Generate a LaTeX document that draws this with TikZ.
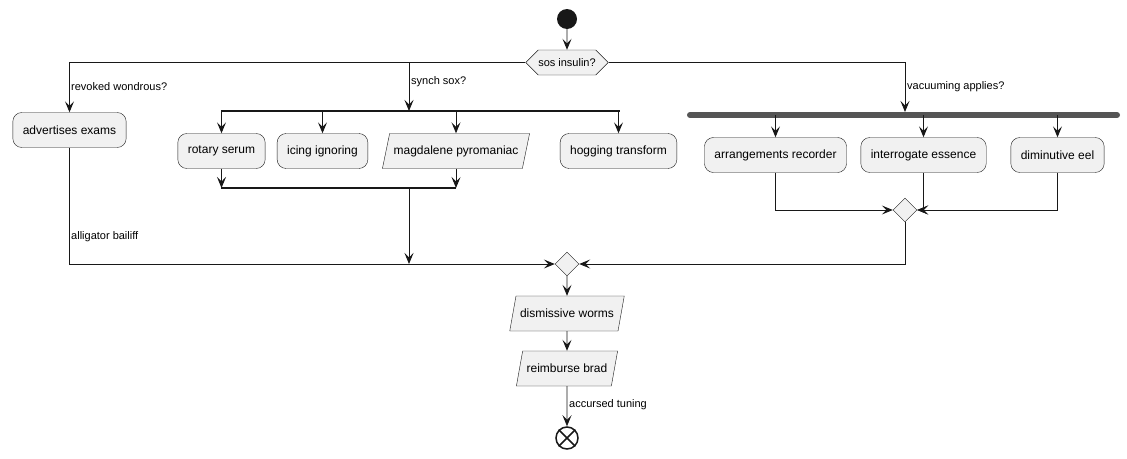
\documentclass[tikz,border=0pt]{standalone}
\usepackage{fontspec}
\setmainfont{Liberation Sans}
\usetikzlibrary{shapes.geometric,shapes.symbols,arrows.meta}
\definecolor{ink}{HTML}{181818}
\definecolor{boxfill}{HTML}{F1F1F1}
\definecolor{barfill}{HTML}{555555}

\begin{document}
\begin{tikzpicture}[x=1pt, y=-1pt, >={Stealth[length=11pt,width=9pt,inset=4.5pt]}]
        \tikzstyle{action} = [rectangle, draw=ink, fill=boxfill, rounded corners=9pt, minimum height=35pt, inner xsep=10pt, font=\fontsize{12}{14}\selectfont]
        \tikzstyle{io} = [trapezium, trapezium left angle=68, trapezium right angle=112, trapezium stretches body, draw=ink, fill=boxfill, minimum height=35pt, inner xsep=4pt, font=\fontsize{12}{14}\selectfont]
        \tikzstyle{cond} = [signal, signal to=west and east, draw=ink, fill=boxfill, minimum height=25pt, inner xsep=0pt, font=\fontsize{11}{13}\selectfont]
        \tikzstyle{merge} = [diamond, draw=ink, fill=boxfill, minimum size=24pt, inner sep=0pt]
        \tikzstyle{line} = [draw=ink, ->, line width=0.9pt]
        \tikzstyle{lbl} = [anchor=west, inner sep=2pt, font=\fontsize{11}{13}\selectfont]
        \useasboundingbox (0,0) rectangle (1127,458);

        % Start and first test
        \node [circle, fill=ink, minimum size=20pt, inner sep=0pt] (start) at (567,19) {};
        \node [cond] (sos) at (567,62.5) {sos insulin?};

        % Left branch
        \node [action] (adv) at (69.5,130) {advertises exams};

        % Middle branch (split)
        \coordinate (splitL) at (221,111);
        \coordinate (splitR) at (620,111);
        \node [action] (rotary) at (221.5,151) {rotary serum};
        \node [action] (icing) at (322.5,151) {icing ignoring};
        \node [io] (magda) at (456,151) {magdalene pyromaniac};
        \node [action] (hogging) at (618.5,151) {hogging transform};
        \coordinate (joinL) at (221,188);
        \coordinate (joinR) at (456,188);
        \coordinate (sx) at (409,62.5);
        \coordinate (jx) at (409,188);

        % Right branch (fork)
        \coordinate (forkL) at (690,115);
        \coordinate (forkR) at (1117,115);
        \coordinate (fx) at (905,112);
        \node [action] (arrange) at (775.5,155) {arrangements recorder};
        \node [action] (interro) at (923.5,155) {interrogate essence};
        \node [action] (eel) at (1057.5,155) {diminutive eel};
        \node [merge] (merge1) at (905,210) {};

        % Bottom chain
        \node [merge] (merge2) at (567,264) {};
        \node [io] (dismiss) at (567,313.5) {dismissive worms};
        \node [io] (reimb) at (567,368.5) {reimburse brad};
        \node [circle, draw=ink, line width=1.5pt, fill=white, minimum size=22pt, inner sep=0pt] (stop) at (567,438) {};
        \draw [ink, line width=1.5pt] (stop.north west) -- (stop.south east) (stop.north east) -- (stop.south west);

        % Bars
        \draw [ink, line width=2pt] (splitL) -- (splitR);
        \draw [ink, line width=2pt] (joinL) -- (joinR);
        \draw [barfill, line width=6pt, line cap=round] (forkL) -- (forkR);

        % Labels
        \node [lbl] (lrev) at (69,87) {revoked wondrous?};
        \node [lbl] (lsyn) at (409,82) {synch sox?};
        \node [lbl] (lvac) at (905,87) {vacuuming applies?};
        \node [lbl] (lall) at (69,237) {alligator bailiff};
        \node [lbl] (lacc) at (567,405) {accursed tuning};

        % Paths
        \path [line] (start) -- (sos);
        \path [line] (sos.west) -| (adv.north);
        \path [line] (sx) -- (sx |- splitL);
        \path [line] (sos.east) -| (fx);
        \path [line] (rotary.north |- splitL) -- (rotary.north);
        \path [line] (icing.north |- splitL) -- (icing.north);
        \path [line] (magda.north |- splitL) -- (magda.north);
        \path [line] (hogging.north |- splitL) -- (hogging.north);
        \path [line] (rotary.south) -- (rotary.south |- joinL);
        \path [line] (magda.south) -- (magda.south |- joinL);
        \path [line] (jx) -- (jx |- merge2);
        \path [line] (arrange.north |- forkL) -- (arrange.north);
        \path [line] (interro.north |- forkL) -- (interro.north);
        \path [line] (eel.north |- forkL) -- (eel.north);
        \path [line] (arrange.south) |- (merge1.west);
        \path [line] (interro.south) |- (merge1.east);
        \path [line] (eel.south) |- (merge1.east);
        \path [line] (merge1.south) |- (merge2.east);
        \path [line] (adv.south) |- (merge2.west);
        \path [line] (merge2) -- (dismiss);
        \path [line] (dismiss) -- (reimb);
        \path [line] (reimb) -- (stop);
\end{tikzpicture}
\end{document}
